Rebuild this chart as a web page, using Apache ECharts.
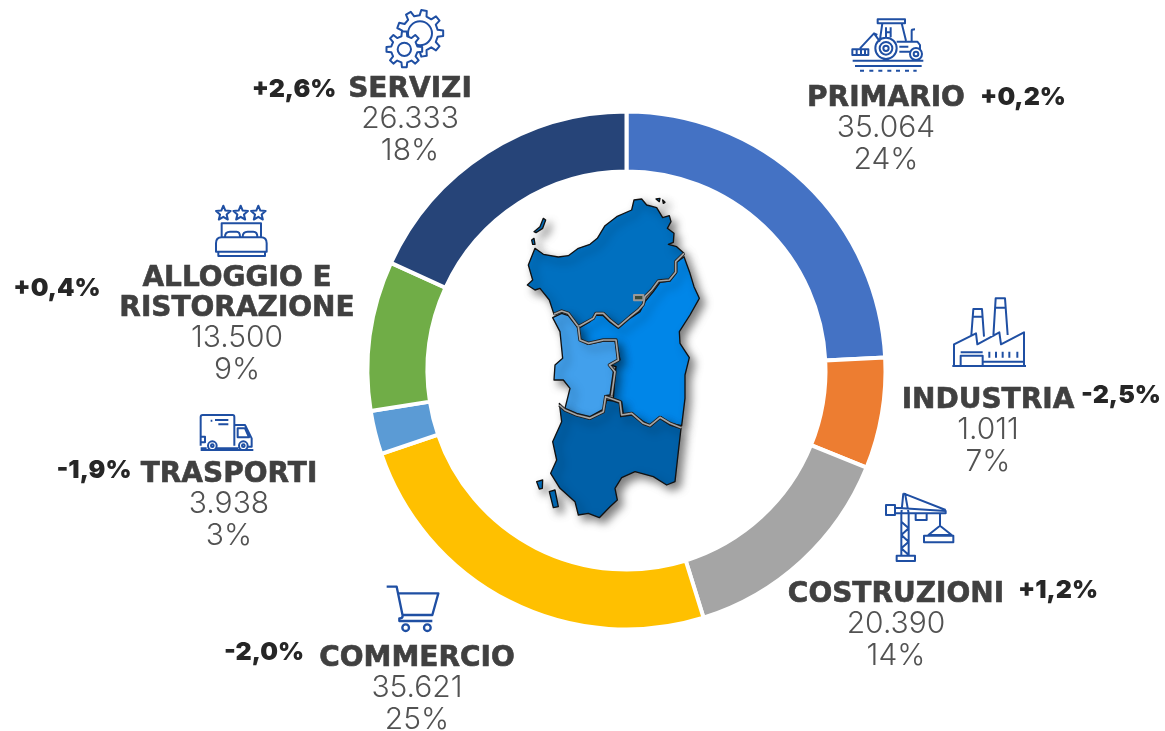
<!DOCTYPE html>
<html><head><meta charset="utf-8">
<style>html,body{margin:0;padding:0;background:#fff}#c{width:1165px;height:731px}</style>
<script src="https://cdn.jsdelivr.net/npm/echarts@6/dist/echarts.min.js"></script>
</head><body><div id="c"></div>
<script>
// ---- data ----
const sectors = ['PRIMARIO','INDUSTRIA','COSTRUZIONI','COMMERCIO','TRASPORTI','ALLOGGIO E\nRISTORAZIONE','SERVIZI'];
// slice sizes: the drawn orange arc (7%) implies about 10.011, although its label prints 1.011
const sliceValues = [35064,10011,20390,35621,3938,13500,26333];
const valueLabels = ['35.064','1.011','20.390','35.621','3.938','13.500','26.333'];
const shareLabels = ['24%','7%','14%','25%','3%','9%','18%'];
const deltaLabels = ['+0,2%','-2,5%','+1,2%','-2,0%','-1,9%','+0,4%','+2,6%'];
const sliceColors = ['#4472C4','#ED7D31','#A5A5A5','#FFC000','#5B9BD5','#70AD47','#264478'];

// ---- layout ----
const labelPos = [[886,129],[988,431],[896,625],[417,689],[229,505],[237,324],[410,120]];
const deltaPos = [[1023,97],[1121,395],[1058,590],[264,652],[94,470],[57,288],[294,89]];
const ICON = '#1F4FA3';
const NAMEFONT = {fontFamily:'DejaVu Sans',fontWeight:'bold',fontSize:28,color:'#404040',lineHeight:30,padding:[4,0,0,0],textBorderColor:'#404040',textBorderWidth:0.6};
const NUMFONT = {fontFamily:'Inter',fontWeight:300,fontSize:30,color:'#525252',lineHeight:32};

function line(pts,close){return 'M'+pts.map(p=>p.join(',')).join('L')+(close?'Z':'');}
function circ(x,y,r){return `M${x-r},${y}A${r},${r} 0 1 1 ${x+r},${y}A${r},${r} 0 1 1 ${x-r},${y}Z`;}
function rect(a,b,c,d){return `M${a},${b}H${c}V${d}H${a}Z`;}
function gear(cx,cy,ro,ri,n){
  const pts=[];for(let i=0;i<n;i++){const s=2*Math.PI/n,a=i*s;
    [[-.28,ri],[-.17,ro],[.17,ro],[.28,ri]].forEach(q=>pts.push([cx+q[1]*Math.cos(a+q[0]*s),cy+q[1]*Math.sin(a+q[0]*s)]));}
  return line(pts,true);
}
function star(cx,cy,r){const pts=[];for(let i=0;i<10;i++){const a=-Math.PI/2+i*Math.PI/5,R=i%2?r*.45:r;pts.push([cx+R*Math.cos(a),cy+R*Math.sin(a)]);}return line(pts,true);}

// every outline below is written in 3x crop coordinates of its own origin
function drawn(ox,oy,d,style){return {type:'path',x:ox,y:oy,scaleX:1/3,scaleY:1/3,silent:true,shape:{pathData:d},style:Object.assign({fill:'none',stroke:ICON,lineWidth:6,lineJoin:'round'},style||{})};}

const icons=[
 // gears
 drawn(250,0,gear(510,100,70,54,9)+circ(510,100,36)),
 drawn(250,0,gear(463,148,54,40,8),{fill:'#fff'}),
 drawn(250,0,circ(463,148,20)),
 // tractor
 drawn(800,0,rect(233,58,315,70)+line([[247,70],[240,118]])+line([[305,70],[318,122]])+'M258,82V112M272,82V112M258,97H272'+'M290,125H352L360,135V150M335,122V92Q335,88 345,88'
   +line([[232,105],[222,100],[180,145]])+line([[222,100],[240,125]])+rect(157,148,205,165)+'M170,150V165M183,150V165M195,150V165'
   +circ(258,145,32)+circ(258,145,19)+circ(258,145,8)+circ(348,162,18)+circ(348,162,7)+'M298,140H325M298,155H330'
   +'M158,182H370M165,198H365M180,212H192M208,212H220M235,212H247M262,212H274M288,212H300M315,212H327M340,212H350'),
 // factory
 drawn(900,285,'M157,243H378M162,243V178L228,145L232,178L298,142L303,178L372,142V243'
   +'M214,150L220,72H246L252,155M218,95H248M280,155L287,40H315L323,150M285,68H318'
   +rect(182,212,248,243)+'M182,202H248M250,230H370M268,200V218M288,200V218M308,200V218M328,200V218M352,200V218'),
 // crane
 drawn(780,485,rect(318,60,345,90)+'M345,68L497,78V85H345M370,25L497,75M370,25L364,85M375,25L386,85'
   +'M364,85V210M386,85V210M364,110L386,130L364,150L386,170L364,190L386,210'+rect(350,212,405,228)
   +rect(407,85,440,105)+'M480,85V122L445,150H515L480,122'+rect(432,152,520,172)),
 // cart
 drawn(220,575,'M500,35H530L548,122Q548,130 538,130V138H637M535,55H655L637,120H550'+circ(557,158,10)+circ(622,158,10),{lineWidth:7}),
 // truck
 drawn(50,405,'M452,122V36Q452,30 458,30H548Q553,30 553,36V122M482,47H487M495,45H535M505,58H535M452,95H465V112H452'
   +'M553,60H585L605,100V125H595M563,70H585L597,97H563ZM470,130H452M500,130H565M452,135H610'+circ(487,122,13)+circ(580,122,13)+circ(487,122,4)+circ(580,122,4)),
 // bed with stars
 drawn(0,195,star(670,55,23)+star(722,55,23)+star(775,55,23)+'M665,125V85H783V125'+'M675,125Q675,110 690,110H710Q720,110 720,125M728,125Q728,110 743,110H760Q772,110 772,125'
   +'M648,170V145Q648,127 665,127H783Q800,127 800,145V170ZM655,170V183H795V170'),
];

// ---- Sardinia (decorative map, crop origin 510,185) ----
const north=[[75,190],[100,208],[145,216],[175,212],[205,190],[240,178],[262,160],[285,122],[320,95],[365,75],[372,45],[395,42],[410,60],[440,68],[458,98],[478,92],[483,110],[472,130],[492,145],[490,172],[475,178],[500,185],[522,205],[497,230],[497,262],[478,285],[445,288],[425,315],[405,335],[400,358],[385,375],[360,395],[325,425],[300,405],[280,385],[258,385],[250,400],[205,425],[175,385],[155,378],[132,388],[118,345],[90,310],[75,315],[52,300],[68,285],[55,240]];
const east=[[522,215],[540,265],[552,305],[568,340],[540,390],[508,440],[510,475],[538,518],[525,570],[525,640],[515,722],[480,715],[452,695],[420,720],[400,710],[365,685],[340,690],[335,650],[310,640],[315,570],[318,545],[300,540],[330,525],[318,465],[280,465],[235,475],[212,462],[205,430],[240,410],[258,390],[280,392],[300,412],[325,430],[360,400],[390,380],[405,350],[430,320],[450,292],[480,288],[500,262],[500,232]];
const west=[[128,398],[155,385],[175,392],[205,430],[210,465],[235,478],[280,468],[315,468],[325,525],[298,540],[310,560],[300,630],[285,632],[285,670],[240,695],[200,685],[165,670],[180,610],[160,585],[132,585],[135,540],[158,520],[150,440]];
const south=[[148,655],[165,678],[200,692],[240,702],[280,680],[290,645],[310,648],[330,655],[332,695],[365,690],[400,715],[420,725],[450,700],[480,720],[513,730],[505,800],[495,890],[470,900],[430,875],[375,860],[335,878],[315,910],[322,945],[300,965],[268,998],[235,985],[205,990],[195,950],[150,910],[122,865],[140,825],[128,770],[155,710]];
const islands=[[[72,140],[90,125],[100,100],[107,105],[98,130],[78,143]],[[65,165],[72,160],[75,178],[68,178]],[[118,920],[135,915],[145,965],[130,968]],[[80,890],[98,885],[97,910],[88,912]],[[438,42],[450,40],[448,50]],[[458,45],[465,52],[460,55]]];
const borders=[
 [[132,388],[155,378],[175,385],[205,425],[250,400],[258,385],[280,385],[300,405],[325,425],[360,395],[385,375],[400,358],[405,335],[425,315],[445,288],[478,285],[497,262],[497,230],[522,205]],
 [[205,425],[210,465],[235,475],[280,465],[318,465],[325,525],[298,540],[315,560],[305,632]],
 [[148,660],[165,675],[200,690],[240,700],[280,680],[287,635],[330,650],[335,690],[365,685],[400,715],[420,722],[450,697],[480,715],[513,728]]
];
const shadow={shadowBlur:9,shadowColor:'rgba(0,0,0,.5)',shadowOffsetX:5,shadowOffsetY:5};
const map=[];
[[north,'#0070C0'],[east,'#0086E8'],[west,'#42A0EC'],[south,'#0060A8']].forEach(([p,c])=>map.push(drawn(510,185,line(p,true),Object.assign({fill:c,stroke:'#111',lineWidth:4},shadow))));
islands.forEach(p=>map.push(drawn(510,185,line(p,true),Object.assign({fill:'#0070C0',stroke:'#111',lineWidth:4},shadow))));
borders.forEach(p=>{map.push(drawn(510,185,line(p),{stroke:'#222',lineWidth:10}));map.push(drawn(510,185,line(p),{stroke:'#A6A6A6',lineWidth:5}));});
map.push(drawn(510,185,rect(372,330,400,346),{fill:'#3a4a3a',stroke:'#999',lineWidth:6}));

const deltas=deltaLabels.map((t,i)=>({type:'text',x:deltaPos[i][0],y:deltaPos[i][1],silent:true,z:7,
  style:{text:t,align:'center',verticalAlign:'middle',fontFamily:'Inter',fontWeight:900,fontSize:25,fill:'#262626'}}));

const chart=echarts.init(document.getElementById('c'),null,{renderer:'canvas'});
chart.setOption({
  animation:false,backgroundColor:'#fff',
  series:[{type:'pie',silent:true,center:[626.5,370.5],radius:[199,259],startAngle:90,clockwise:true,
    avoidLabelOverlap:false,
    data:sectors.map((n,i)=>({name:n,value:sliceValues[i],itemStyle:{color:sliceColors[i]}})),
    itemStyle:{borderColor:'#fff',borderWidth:4},
    labelLine:{show:false},
    label:{show:true,position:'outside',align:'center',
      formatter:p=>sectors[p.dataIndex].split('\n').map(s=>`{n|${s}}`).join('\n')+`\n{v|${valueLabels[p.dataIndex]}}\n{v|${shareLabels[p.dataIndex]}}`,
      rich:{n:NAMEFONT,v:NUMFONT}},
    labelLayout:p=>({x:labelPos[p.dataIndex][0],y:labelPos[p.dataIndex][1],align:'center',verticalAlign:'middle',hideOverlap:false})
  },{type:'custom',coordinateSystem:'none',silent:true,z:3,data:[[0]],
     renderItem:()=>({type:'group',children:[...map,...icons]})}],
  graphic:{elements:deltas}
});
</script></body></html>
